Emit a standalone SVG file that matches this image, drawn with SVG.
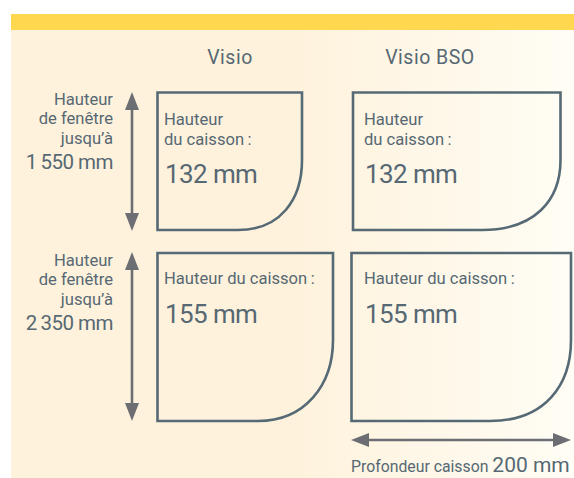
<svg xmlns="http://www.w3.org/2000/svg" width="574" height="478" viewBox="0 0 574 478">
<style>
text{font-family:"Roboto","Liberation Sans",sans-serif;fill:#566873;font-weight:400}
.m{font-size:16.600px}
.n{font-size:20.500px;letter-spacing:-.5px}
.b{font-size:26px;letter-spacing:-.6px}
.h{font-size:19.500px;letter-spacing:.5px}
.r{text-anchor:end}
.box{fill:none;stroke:#566a75;stroke-width:2.6}
.arr{stroke:#6d6e73;stroke-width:2.6;fill:none;marker-start:url(#a);marker-end:url(#a)}
</style>
<defs>
<linearGradient id="g" x1="0" y1="0" x2="1" y2="0"><stop offset="0.5" stop-color="#fef2dc"/><stop offset="1" stop-color="#fffdf5"/></linearGradient>
<marker id="a" markerUnits="userSpaceOnUse" markerWidth="18" markerHeight="14" refX="12" refY="7" orient="auto-start-reverse"><path d="M0 0L18 7L0 14Z" fill="#6d6e73"/></marker>
</defs>
<rect x="11" y="14" width="563" height="464" fill="url(#g)"/>
<rect x="11" y="14" width="563" height="16" fill="#ffd850"/>
<g id="headers"><text class="h" x="230" y="64" text-anchor="middle">Visio</text><text class="h" x="430" y="64" text-anchor="middle">Visio BSO</text></g>
<g id="connectors">
<line class="arr" x1="132" y1="98" x2="132" y2="225"/>
<line class="arr" x1="132" y1="258" x2="132" y2="415"/>
<line class="arr" x1="357" y1="440" x2="565" y2="440"/>
</g>
<g id="label-1550"><text class="m r" x="113" y="105">Hauteur</text><text class="m r" x="113" y="124">de fenêtre</text><text class="m r" x="113" y="144">jusqu’à</text><text class="n r" x="113" y="169">1&#8201;550 mm</text></g>
<g id="label-2350"><text class="m r" x="113" y="266">Hauteur</text><text class="m r" x="113" y="285">de fenêtre</text><text class="m r" x="113" y="305">jusqu’à</text><text class="n r" x="113" y="330">2&#8201;350 mm</text></g>
<g id="box-visio-132"><path class="box" d="M157.500 92.500H302V160C302 200 280 230 238 230H157.500Z"/><text class="m" x="164" y="125">Hauteur</text><text class="m" x="164" y="145">du caisson&#8201;:</text><text class="b" x="165" y="183">132 mm</text></g>
<g id="box-bso-132"><path class="box" d="M353 92.500H560.500V160C560.500 200 535 230 482 230H353Z"/><text class="m" x="364" y="125">Hauteur</text><text class="m" x="364" y="145">du caisson&#8201;:</text><text class="b" x="365" y="183">132 mm</text></g>
<g id="box-visio-155"><path class="box" d="M157.500 253H333V340C333 385 305 421 258 421H157.500Z"/><text class="m" x="164" y="284">Hauteur du caisson&#8201;:</text><text class="b" x="165" y="323">155 mm</text></g>
<g id="box-bso-155"><path class="box" d="M351.500 253H571V340C571 385 545 421 490 421H351.500Z"/><text class="m" x="364" y="284">Hauteur du caisson&#8201;:</text><text class="b" x="365" y="323">155 mm</text></g>
<g id="depth-label"><text x="351" y="472" font-size="15.800">Profondeur caisson <tspan font-size="21">200 mm</tspan></text></g>
</svg>
